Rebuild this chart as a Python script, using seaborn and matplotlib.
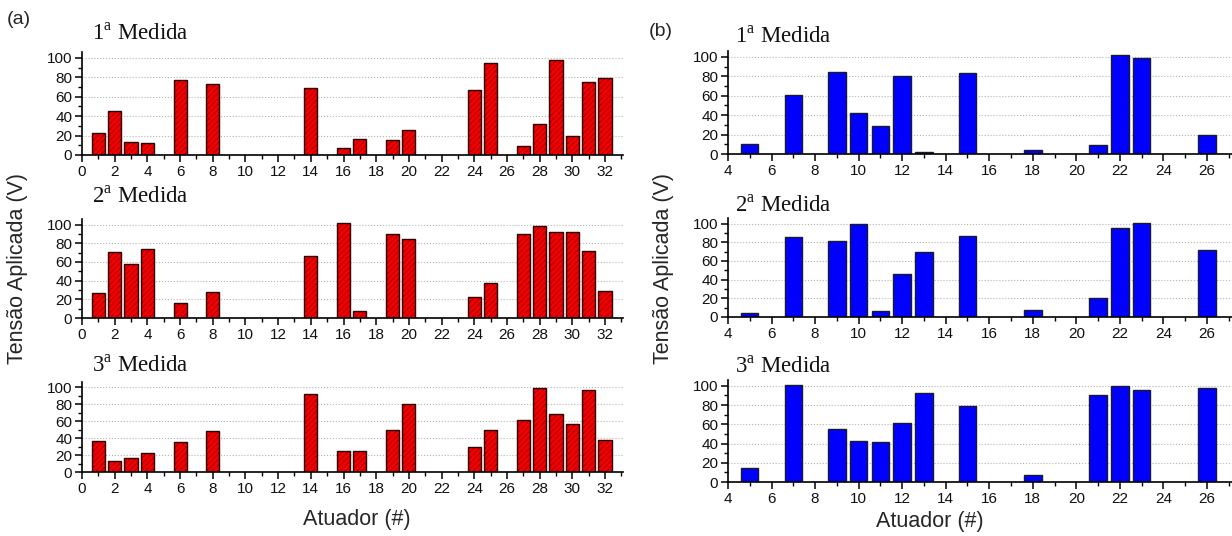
import matplotlib
matplotlib.use("Agg")
import matplotlib.pyplot as plt
from matplotlib.ticker import MultipleLocator
import pandas as pd
import seaborn as sns

# Actuator numbers and applied voltage (V) for each measurement
act_a = [1, 2, 3, 4, 6, 8, 14, 16, 17, 19, 20, 24, 25, 27, 28, 29, 30, 31, 32]
a_med1 = [23, 45, 13, 12, 77, 73, 69, 7, 16, 15, 26, 67, 95, 9, 32, 98, 20, 75, 79]
a_med2 = [27, 71, 58, 74, 16, 28, 66, 102, 8, 90, 85, 22, 38, 90, 98, 92, 92, 72, 29]
a_med3 = [37, 13, 17, 22, 35, 48, 92, 25, 25, 50, 80, 29, 50, 61, 99, 68, 57, 96, 38]

act_b = [5, 7, 9, 10, 11, 12, 13, 15, 18, 21, 22, 23, 26]
b_med1 = [10, 61, 84, 42, 29, 80, 2, 83, 4, 9, 102, 99, 20]
b_med2 = [4, 86, 81, 100, 6, 46, 70, 87, 8, 20, 95, 101, 72]
b_med3 = [15, 101, 55, 43, 42, 61, 92, 79, 7, 90, 100, 96, 98]

titles = ["1$^{\\mathrm{a}}$ Medida", "2$^{\\mathrm{a}}$ Medida", "3$^{\\mathrm{a}}$ Medida"]
ylabel = "Tensão Aplicada (V)"
xlabel = "Atuador (#)"

sns.set_theme(style="ticks")
plt.rcParams["font.family"] = ["Liberation Sans", "DejaVu Sans"]
plt.rcParams["mathtext.fontset"] = "custom"
plt.rcParams["mathtext.rm"] = "Liberation Serif"
plt.rcParams["hatch.linewidth"] = 0.55

W, H = 1232, 536
fig = plt.figure(figsize=(W / 100, H / 100), dpi=100)
YTOP = 106


def make_axes(x_left, x_right, y_bottom, y_top):
    return fig.add_axes([x_left / W, 1 - y_bottom / H,
                         (x_right - x_left) / W, (y_bottom - y_top) / H])


def style_axes(ax, xlim, xmajor):
    ax.set_xlim(*xlim)
    ax.set_ylim(0, YTOP)
    ax.xaxis.set_major_locator(MultipleLocator(xmajor))
    ax.xaxis.set_minor_locator(MultipleLocator(1))
    ax.yaxis.set_major_locator(MultipleLocator(20))
    ax.yaxis.set_minor_locator(MultipleLocator(10))
    ax.tick_params(axis="both", which="major", direction="out", length=5,
                   width=1.1, color="black", labelsize=11, pad=2,
                   labelcolor="#111111")
    ax.tick_params(axis="both", which="minor", direction="out", length=3,
                   width=1.0, color="black")
    ax.grid(axis="y", which="major", linestyle=":", color="#b5b5b5", lw=0.8)
    ax.set_axisbelow(True)
    sns.despine(ax=ax)
    for s in ("left", "bottom"):
        ax.spines[s].set_linewidth(1.2)
        ax.spines[s].set_color("black")
    ax.set_xlabel("")
    ax.set_ylabel("")


# Column (a): red bars with a fine dark-red diagonal hatch and black outline
rows_a = [(a_med1, 155, 52), (a_med2, 318, 219), (a_med3, 472, 382)]
for vals, yb, yt in rows_a:
    ax = make_axes(82, 623, yb, yt)
    df = pd.DataFrame({"atuador": act_a, "tensao": vals})
    sns.barplot(data=df, x="atuador", y="tensao", native_scale=True,
                color="#f00000", saturation=1, width=0.8, ax=ax,
                edgecolor="#a00000", linewidth=0, errorbar=None)
    for p in ax.patches:
        p.set_hatch("//////")
    sns.barplot(data=df, x="atuador", y="tensao", native_scale=True,
                color="#2a0000", saturation=1, width=0.8, ax=ax, fill=False,
                linewidth=1.0, errorbar=None)
    style_axes(ax, (0, 33.1), 2)

# Column (b): solid blue bars
rows_b = [(b_med1, 154, 51), (b_med2, 317, 218), (b_med3, 482, 380)]
for vals, yb, yt in rows_b:
    ax = make_axes(728, 1232, yb, yt)
    df = pd.DataFrame({"atuador": act_b, "tensao": vals})
    sns.barplot(data=df, x="atuador", y="tensao", native_scale=True,
                color="#0000ff", saturation=1, width=0.8, ax=ax,
                edgecolor="#1a1a2a", linewidth=1.0, errorbar=None)
    style_axes(ax, (4, 27.15), 2)

# Measurement titles
for (x, y), t in zip([(92, 40), (92, 203), (92, 372)], titles):
    fig.text(x / W, 1 - y / H, t, fontsize=16.5, family="Liberation Serif",
             ha="left", va="baseline", color="#111111")
for (x, y), t in zip([(735, 43), (735, 212), (735, 373)], titles):
    fig.text(x / W, 1 - y / H, t, fontsize=16.5, family="Liberation Serif",
             ha="left", va="baseline", color="#111111")

# Panel letters
fig.text(7 / W, 1 - 20 / H, "(a)", fontsize=14, ha="left", va="center")
fig.text(649 / W, 1 - 31 / H, "(b)", fontsize=14, ha="left", va="center")

# Shared axis labels
fig.text(18 / W, 1 - 268 / H, ylabel, fontsize=15.5, rotation=90,
         ha="center", va="center")
fig.text(663 / W, 1 - 268 / H, ylabel, fontsize=15.5, rotation=90,
         ha="center", va="center")
fig.text(357 / W, 1 - 520 / H, xlabel, fontsize=15.5, ha="center", va="center")
fig.text(930 / W, 1 - 522 / H, xlabel, fontsize=15.5, ha="center", va="center")

fig.savefig("out.png", dpi=100)
